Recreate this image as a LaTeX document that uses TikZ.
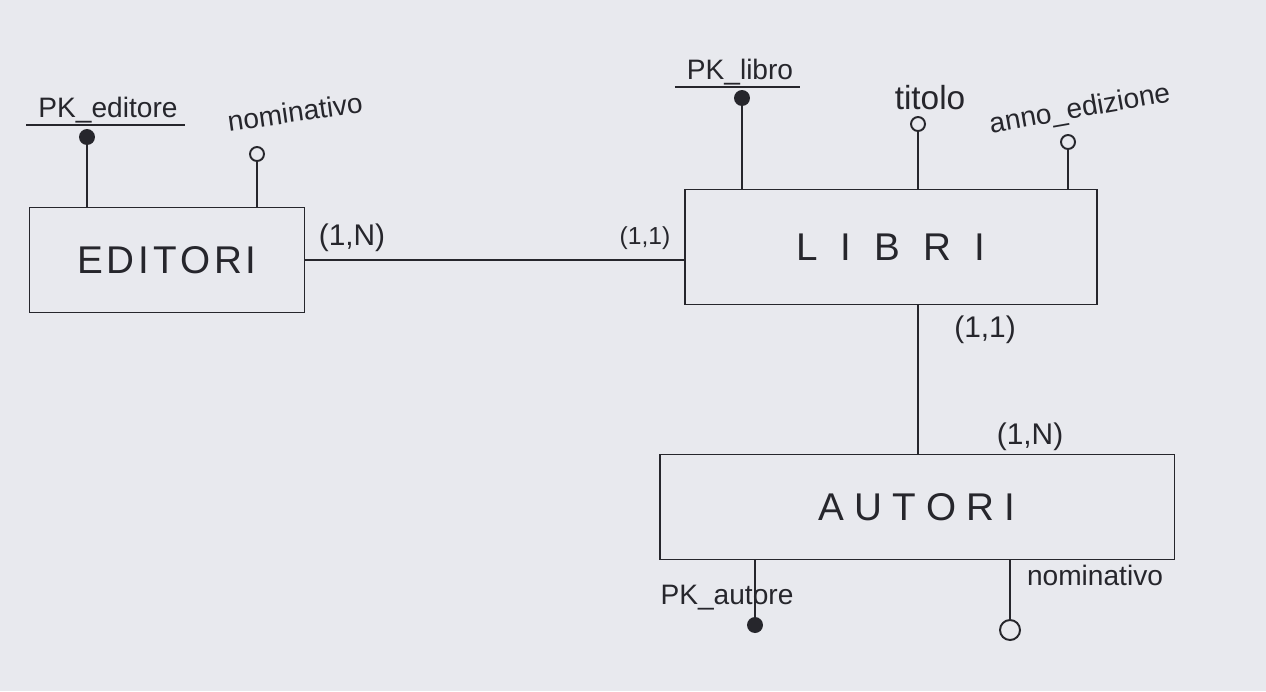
\documentclass[tikz,border=0pt]{standalone}
\usepackage{fontspec}
\setmainfont{Liberation Sans}
\definecolor{inkc}{RGB}{38,38,44}
\definecolor{paper}{RGB}{232,233,238}
\begin{document}
\begin{tikzpicture}[x=0.02cm,y=-0.02cm,
  ink/.style={line width=1.1pt, draw=inkc},
  entity/.style={ink, rectangle, text=inkc, inner sep=0pt},
  lbl/.style={font=\fontsize{16}{18}\selectfont, text=inkc, inner sep=1pt},
  card/.style={font=\fontsize{17}{19}\selectfont, text=inkc, inner sep=1pt},
  keyattr/.style={circle, ink, fill=inkc, minimum size=0.28cm, inner sep=0pt},
  attr/.style={circle, ink, fill=paper, minimum size=0.28cm, inner sep=0pt}]
\fill[paper] (0,0) rectangle (1266,691);
\useasboundingbox (0,0) rectangle (1266,691);

% entities
\node[entity, minimum width=5.5cm, minimum height=2.1cm,
  font=\fontsize{22}{24}\selectfont\addfontfeature{LetterSpace=10}] (editori) at (167,260) {EDITORI};
\node[entity, minimum width=8.24cm, minimum height=2.3cm,
  font=\fontsize{22}{24}\selectfont\addfontfeature{LetterSpace=60}] (libri) at (891,247) {LIBRI};
\node[entity, minimum width=10.3cm, minimum height=2.1cm,
  font=\fontsize{22}{24}\selectfont\addfontfeature{LetterSpace=27}] (autori) at (917,507) {AUTORI};

% EDITORI attributes
\node[keyattr] (pke) at (87,137) {};
\node[lbl] (pkel) at (108,110) {PK\_editore};
\draw[ink] ([xshift=-0.2cm]pkel.south west) -- ([xshift=0.1cm]pkel.south east);
\draw[ink] (pke) -- (pke |- editori.north);
\node[attr] (nome) at (257,154) {};
\node[lbl, rotate=8] (nomel) at (295,112) {nominativo};
\draw[ink] (nome) -- (nome |- editori.north);

% LIBRI attributes
\node[keyattr] (pkl) at (742,98) {};
\node[lbl] (pkll) at (740,72) {PK\_libro};
\draw[ink] ([xshift=-0.2cm]pkll.south west) -- ([xshift=0.1cm]pkll.south east);
\draw[ink] (pkl) -- (pkl |- libri.north);
\node[attr] (tit) at (918,124) {};
\node[lbl, font=\fontsize{19}{21}\selectfont] (titl) at (930,98) {titolo};
\draw[ink] (tit) -- (tit |- libri.north);
\node[attr] (anno) at (1068,142) {};
\node[lbl, rotate=10] (annol) at (1080,110) {anno\_edizione};
\draw[ink] (anno) -- (anno |- libri.north);

% AUTORI attributes
\node[keyattr] (pka) at (755,625) {};
\node[lbl] (pkal) at (727,598) {PK\_autore};
\draw[ink] (pka) -- (pka |- autori.south);
\node[attr, minimum size=0.4cm] (noma) at (1010,630) {};
\node[lbl] (nomal) at (1095,575) {nominativo};
\draw[ink] (noma) -- (noma |- autori.south);

% relationships
\draw[ink] (editori.east) -- (editori.east -| libri.west);
\node[card] (c1) at (352,238) {(1,N)};
\node[card, font=\fontsize{14}{16}\selectfont] (c2) at (645,238) {(1,1)};
\path (918,0) coordinate (vx);
\draw[ink] (libri.south -| vx) -- (autori.north -| vx);
\node[card] (c3) at (985,330) {(1,1)};
\node[card] (c4) at (1030,437) {(1,N)};
\end{tikzpicture}
\end{document}
